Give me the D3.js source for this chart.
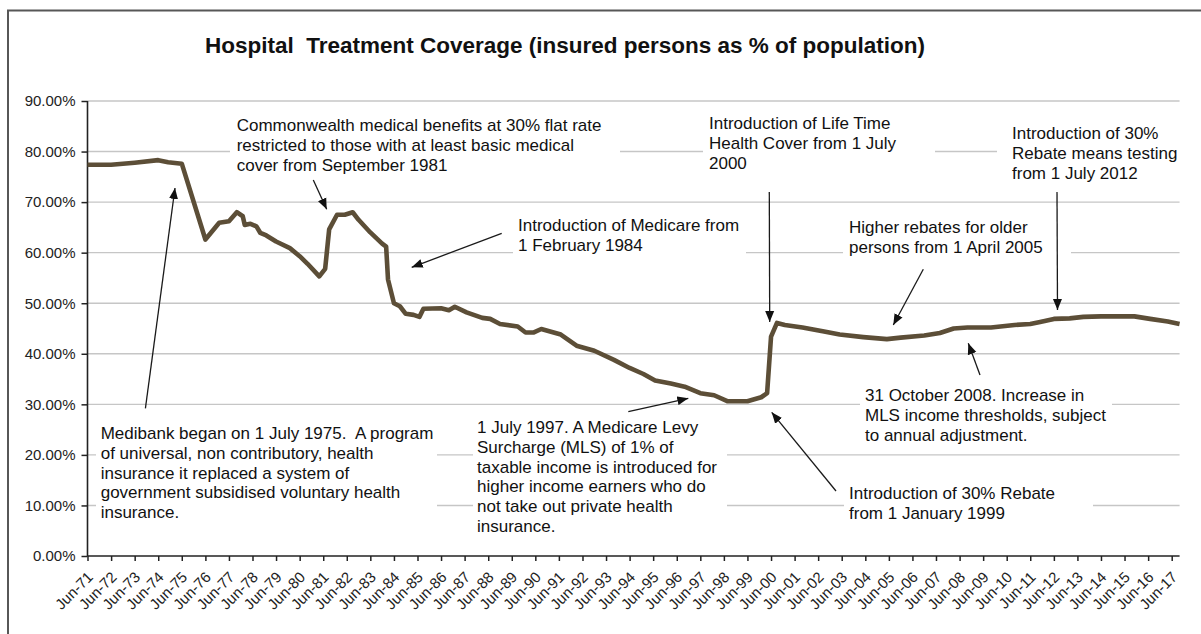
<!DOCTYPE html>
<html><head><meta charset="utf-8">
<script src="https://cdn.jsdelivr.net/npm/d3@7"></script>
<style>
html,body{margin:0;padding:0;background:#fff;overflow:hidden}
svg{display:block;font-family:"Liberation Sans",Arial,sans-serif}
text{white-space:pre}
</style>
</head><body>
<svg id="chart" width="1201" height="634"></svg>
<script>
// ---------------- DATA ----------------
const periods = ["1971-06","1972-06","1973-06","1974-06","1974-11","1975-06","1976-06","1977-01","1977-06","1977-10",
"1978-01","1978-02","1978-05","1978-08","1978-10","1979-01","1979-06","1980-01","1980-06","1980-10",
"1981-04","1981-07","1981-09","1982-01","1982-05","1982-09","1982-12","1983-06","1983-12","1984-02",
"1984-03","1984-06","1984-09","1984-12","1985-04","1985-07","1985-09","1986-06","1986-10","1987-01",
"1987-07","1988-03","1988-07","1988-12","1989-09","1990-01","1990-05","1990-09","1991-07","1992-03",
"1992-12","1993-10","1994-06","1995-01","1995-07","1996-03","1996-10","1997-06","1998-01","1998-08",
"1999-06","2000-01","2000-04","2000-06","2000-09","2001-01","2001-10","2002-09","2003-05","2004-05",
"2005-05","2005-12","2006-12","2007-08","2008-03","2008-10","2009-10","2010-10","2011-06","2011-11",
"2012-06","2013-02","2013-09","2014-06","2015-11","2016-07","2017-04","2017-10"];
const coverage = [77.4,77.4,77.8,78.3,77.9,77.6,62.6,65.9,66.2,68.0,
67.2,65.5,65.7,65.2,63.9,63.4,62.2,60.9,59.3,57.8,
55.3,56.8,64.6,67.5,67.5,68.0,66.5,64.0,61.8,61.2,
54.7,50.0,49.4,47.9,47.7,47.3,48.9,49.0,48.6,49.3,
48.2,47.1,46.9,45.9,45.4,44.2,44.2,44.9,43.8,41.6,
40.6,38.8,37.2,36.0,34.7,34.1,33.5,32.2,31.8,30.6,
30.6,31.4,32.2,43.4,46.1,45.7,45.2,44.4,43.8,43.3,
42.9,43.2,43.6,44.1,45.0,45.2,45.2,45.7,45.9,46.3,
46.9,47.0,47.3,47.4,47.4,46.9,46.4,45.9];
const yTickValues = [0,10,20,30,40,50,60,70,80,90];
const xTickLabels = ["Jun-71","Jun-72","Jun-73","Jun-74","Jun-75","Jun-76","Jun-77","Jun-78","Jun-79","Jun-80",
"Jun-81","Jun-82","Jun-83","Jun-84","Jun-85","Jun-86","Jun-87","Jun-88","Jun-89","Jun-90",
"Jun-91","Jun-92","Jun-93","Jun-94","Jun-95","Jun-96","Jun-97","Jun-98","Jun-99","Jun-00",
"Jun-01","Jun-02","Jun-03","Jun-04","Jun-05","Jun-06","Jun-07","Jun-08","Jun-09","Jun-10",
"Jun-11","Jun-12","Jun-13","Jun-14","Jun-15","Jun-16","Jun-17"];
const chartTitle = "Hospital  Treatment Coverage (insured persons as % of population)";
const noteTexts = [
  ["Commonwealth medical benefits at 30% flat rate","restricted to those with at least basic medical","cover from September 1981"],
  ["Introduction of Medicare from","1 February 1984"],
  ["Introduction of Life Time","Health Cover from 1 July","2000"],
  ["Introduction of 30%","Rebate means testing","from 1 July 2012"],
  ["Higher rebates for older","persons from 1 April 2005"],
  ["31 October 2008. Increase in","MLS income thresholds, subject","to annual adjustment."],
  ["Introduction of 30% Rebate","from 1 January 1999"],
  ["1 July 1997. A Medicare Levy","Surcharge (MLS) of 1% of","taxable income is introduced for","higher income earners who do","not take out private health","insurance."],
  ["Medibank began on 1 July 1975.  A program","of universal, non contributory, health","insurance it replaced a system of","government subsidised voluntary health","insurance."]
];

// ---------------- LAYOUT ----------------
const plot = {left: 87.5, right: 1171.7, top: 101, bottom: 556};
// annotation layout: text x, first-line centre y, occluding box [x0,y0,x1,y1], arrow [x0,y0,x1,y1]
const noteLayout = [
  {x:236.7, y:125,   box:[230,112,620,178],  arrow:[313.3,180,326.7,209.3]},
  {x:518,   y:225,   box:[513,212,746,257],  arrow:[501.7,233.3,411.7,267.3]},
  {x:709,   y:123,   box:[703,110,935,172],  arrow:[769.3,192,769.7,322]},
  {x:1012,  y:133.3, box:[997,120,1190,184], arrow:[1057,192,1057.5,310]},
  {x:849,   y:227,   box:[843,214,1071,258], arrow:[923.3,269.3,893.3,325]},
  {x:865,   y:395,   box:[860,383,1112,446], arrow:[980,375,968.3,343.3]},
  {x:849,   y:493.3, box:[844,481,1093,524], arrow:[836,491,771.7,412.3]},
  {x:477,   y:427,   box:[473,415,727,538],  arrow:[628.3,411.7,688.3,398.3]},
  {x:100.7, y:433,   box:[96,420,437,524],   arrow:[145.4,408.3,175,188]}
];
const lineGap = 19.8;

const parseMonth = d3.timeParse("%Y-%m");
const parseTick = d3.timeParse("%b-%y");
const data = periods.map((p,i)=>({date:parseMonth(p), value:coverage[i]}));
const tickDates = xTickLabels.map(parseTick);

const x = d3.scaleTime().domain([tickDates[0], tickDates[tickDates.length-1]]).range([plot.left, plot.right]);
const y = d3.scaleLinear().domain([0,90]).range([plot.bottom, plot.top]);
const axisEnd = x(data[data.length-1].date);

const svg = d3.select("#chart");

// frame
svg.append("rect").attr("x",8).attr("y",10.5).attr("width",1300).attr("height",700)
  .attr("fill","none").attr("stroke","#575757").attr("stroke-width",2);

// title
svg.append("text").attr("x",565).attr("y",45).attr("dy","0.35em").attr("text-anchor","middle")
  .attr("font-size",22.5).attr("font-weight","bold").attr("fill","#111").text(chartTitle);

// gridlines
svg.append("g").selectAll("line").data(yTickValues.filter(v=>v>0)).join("line")
  .attr("x1",plot.left).attr("x2",axisEnd)
  .attr("y1",d=>y(d)).attr("y2",d=>y(d))
  .attr("stroke","#c6c6c6").attr("stroke-width",1.4);

// y axis
const yAxis = svg.append("g").attr("transform",`translate(${plot.left},0)`)
  .call(d3.axisLeft(y).tickValues(yTickValues).tickFormat(d=>d.toFixed(2)+"%").tickSize(6).tickSizeOuter(0).tickPadding(6));
yAxis.select(".domain").remove();
yAxis.selectAll(".tick line").attr("stroke","#222").attr("stroke-width",1.5);
yAxis.selectAll(".tick text").attr("font-size",15).attr("fill","#222")
  .attr("font-family","'Liberation Sans',Arial,sans-serif");
svg.append("line").attr("x1",plot.left).attr("x2",plot.left).attr("y1",plot.top).attr("y2",plot.bottom)
  .attr("stroke","#222").attr("stroke-width",1.6);

// x axis
const xAxis = svg.append("g").attr("transform",`translate(0,${plot.bottom})`)
  .call(d3.axisBottom(x).tickValues(tickDates).tickFormat(d3.timeFormat("%b-%y")).tickSize(5).tickSizeOuter(0));
xAxis.select(".domain").remove();
xAxis.selectAll(".tick line").attr("stroke","#222").attr("stroke-width",1.5);
xAxis.selectAll(".tick text").attr("font-size",15).attr("fill","#222")
  .attr("font-family","'Liberation Sans',Arial,sans-serif")
  .attr("text-anchor","end").attr("x",0).attr("y",0).attr("dy",0)
  .attr("transform","translate(6,22) rotate(-45)");
svg.append("line").attr("x1",plot.left).attr("x2",axisEnd).attr("y1",plot.bottom).attr("y2",plot.bottom)
  .attr("stroke","#222").attr("stroke-width",1.6);

// series line
svg.append("path").datum(data)
  .attr("d", d3.line().x(d=>x(d.date)).y(d=>y(d.value)))
  .attr("fill","none").attr("stroke","#5c4e37").attr("stroke-width",4.6)
  .attr("stroke-linejoin","round").attr("stroke-linecap","butt");

// annotations
svg.append("defs").append("marker").attr("id","ah").attr("markerUnits","userSpaceOnUse")
  .attr("markerWidth",12).attr("markerHeight",10).attr("refX",11).attr("refY",5).attr("orient","auto")
  .append("path").attr("d","M0,0.5 L11,5 L0,9.5 Z").attr("fill","#111");

const notes = svg.append("g");
noteTexts.forEach((lines,i)=>{
  const L = noteLayout[i];
  notes.append("rect").attr("x",L.box[0]).attr("y",L.box[1])
    .attr("width",L.box[2]-L.box[0]).attr("height",L.box[3]-L.box[1]).attr("fill","#fff");
  const t = notes.append("text").attr("font-size",17).attr("fill","#111");
  lines.forEach((s,j)=>{
    t.append("tspan").attr("x",L.x).attr("y",L.y + j*lineGap).attr("dy","0.35em").text(s);
  });
});
noteLayout.forEach(L=>{
  svg.append("line").attr("x1",L.arrow[0]).attr("y1",L.arrow[1]).attr("x2",L.arrow[2]).attr("y2",L.arrow[3])
    .attr("stroke","#1a1a1a").attr("stroke-width",1.3).attr("marker-end","url(#ah)");
});
</script>
</body></html>
